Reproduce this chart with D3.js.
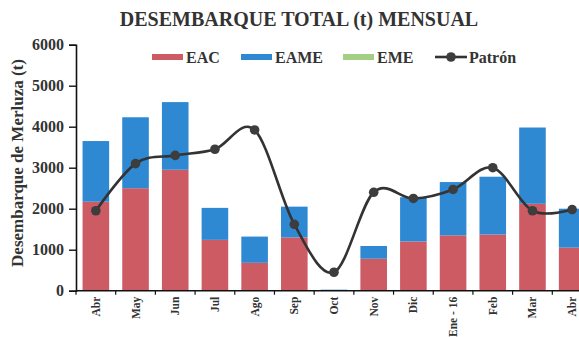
<!DOCTYPE html>
<html>
<head>
<meta charset="utf-8">
<script src="https://cdn.jsdelivr.net/npm/d3@7/dist/d3.min.js"></script>
<style>
  html, body { margin: 0; padding: 0; background: #fff; }
  svg { display: block; }
  text { font-family: "Liberation Serif", "Times New Roman", serif; font-weight: bold; fill: #333; }
</style>
</head>
<body>
<svg id="chart" width="579" height="337"></svg>
<script>
// Monthly hake landings (t), April to April
const months = ["Abr", "May", "Jun", "Jul", "Ago", "Sep", "Oct", "Nov", "Dic", "Ene - 16", "Feb", "Mar", "Abr"];
const eac  = [2170, 2500, 2950, 1240, 680, 1300, 15, 780, 1200, 1350, 1370, 2120, 1050];
const eame = [1480, 1730, 1650, 780, 640, 750, 10, 310, 1080, 1300, 1410, 1860, 950];
const eme  = [0, 0, 0, 0, 0, 0, 0, 0, 0, 0, 0, 0, 0];
const patron = [1950, 3100, 3300, 3450, 3920, 1620, 450, 2400, 2250, 2470, 3000, 1950, 1980];
const yTicks = [0, 1000, 2000, 3000, 4000, 5000, 6000];

const seriesNames = ["EAC", "EAME", "EME"];
const colors = { EAC: "#cd5b64", EAME: "#2f88d2", EME: "#a3cf85" };

const svg = d3.select("#chart");
const plotLeft = 76, plotBottom = 290.7, plotTop = 44.7, plotRight = 592;

const idx = months.map((_, i) => i);
const x = d3.scaleBand().domain(idx).range([plotLeft, plotRight]).paddingInner(0.33).paddingOuter(0.165);
const y = d3.scaleLinear().domain([0, 6000]).range([plotBottom, plotTop]);

const rows = idx.map(i => ({ i, EAC: eac[i], EAME: eame[i], EME: eme[i] }));
const stacked = d3.stack().keys(seriesNames)(rows);

// stacked bars
svg.append("g").selectAll("g")
  .data(stacked)
  .join("g")
  .attr("fill", d => colors[d.key])
  .selectAll("rect")
  .data(d => d)
  .join("rect")
  .attr("x", d => x(d.data.i))
  .attr("width", x.bandwidth())
  .attr("y", d => y(d[1]))
  .attr("height", d => y(d[0]) - y(d[1]));

// y axis
const yAxis = svg.append("g")
  .attr("transform", `translate(${plotLeft},0)`)
  .call(d3.axisLeft(y).tickValues(yTicks).tickSize(7).tickPadding(5).tickFormat(d3.format("d")));
yAxis.select(".domain").attr("stroke", "#111").attr("stroke-width", 1.6);
yAxis.selectAll(".tick line").attr("stroke", "#111").attr("stroke-width", 1.4);
yAxis.selectAll(".tick text")
  .style("font-family", "'Liberation Serif', serif")
  .style("font-weight", "bold")
  .style("font-size", "16px")
  .attr("fill", "#333");

// x axis with ticks at category boundaries
const xAxisG = svg.append("g").attr("transform", `translate(0,${plotBottom})`);
xAxisG.append("line")
  .attr("x1", plotLeft).attr("x2", 579)
  .attr("stroke", "#111").attr("stroke-width", 1.6);
const step = x.step();
const bounds = d3.range(months.length + 1).map(k => x(0) - x.paddingInner() * step / 2 + k * step);
xAxisG.selectAll("line.tk")
  .data(bounds)
  .join("line")
  .attr("class", "tk")
  .attr("x1", d => d).attr("x2", d => d)
  .attr("y1", 0).attr("y2", 4)
  .attr("stroke", "#111").attr("stroke-width", 1.2);
xAxisG.selectAll("text")
  .data(idx)
  .join("text")
  .attr("transform", i => `translate(${x(i) + x.bandwidth() / 2 + 4},6) rotate(-90)`)
  .attr("text-anchor", "end")
  .style("font-size", "11.5px")
  .text(i => months[i]);

// Patrón line
const line = d3.line()
  .x((d, i) => x(i) + x.bandwidth() / 2)
  .y(d => y(d))
  .curve(d3.curveCardinal.tension(0));
svg.append("path")
  .datum(patron)
  .attr("fill", "none")
  .attr("stroke", "#333")
  .attr("stroke-width", 2.6)
  .attr("d", line);
svg.append("g").selectAll("circle")
  .data(patron)
  .join("circle")
  .attr("cx", (d, i) => x(i) + x.bandwidth() / 2)
  .attr("cy", d => y(d))
  .attr("r", 4.8)
  .attr("fill", "#3d3d3d");

// title
svg.append("text")
  .attr("x", 299).attr("y", 26)
  .attr("text-anchor", "middle")
  .style("font-size", "20px")
  .text("DESEMBARQUE TOTAL (t) MENSUAL");

// y axis title
svg.append("text")
  .attr("transform", "translate(23,163) rotate(-90)")
  .attr("text-anchor", "middle")
  .style("font-size", "17px")
  .text("Desembarque de Merluza (t)");

// legend
const legendItems = [
  { name: "EAC", type: "rect", x0: 152, w: 31, tx: 186 },
  { name: "EAME", type: "rect", x0: 241, w: 31, tx: 275 },
  { name: "EME", type: "rect", x0: 343, w: 31, tx: 377 },
  { name: "Patrón", type: "line", x0: 435, w: 32, tx: 469 }
];
const lg = svg.append("g");
legendItems.forEach(it => {
  if (it.type === "rect") {
    lg.append("rect")
      .attr("x", it.x0).attr("y", 54).attr("width", it.w).attr("height", 6)
      .attr("fill", colors[it.name]);
  } else {
    lg.append("line")
      .attr("x1", it.x0).attr("x2", it.x0 + it.w)
      .attr("y1", 57).attr("y2", 57)
      .attr("stroke", "#333").attr("stroke-width", 2.6);
    lg.append("circle")
      .attr("cx", it.x0 + it.w / 2).attr("cy", 57).attr("r", 4.8)
      .attr("fill", "#3d3d3d");
  }
  lg.append("text")
    .attr("x", it.tx).attr("y", 63)
    .style("font-size", "16px")
    .text(it.name);
});
</script>
</body>
</html>
